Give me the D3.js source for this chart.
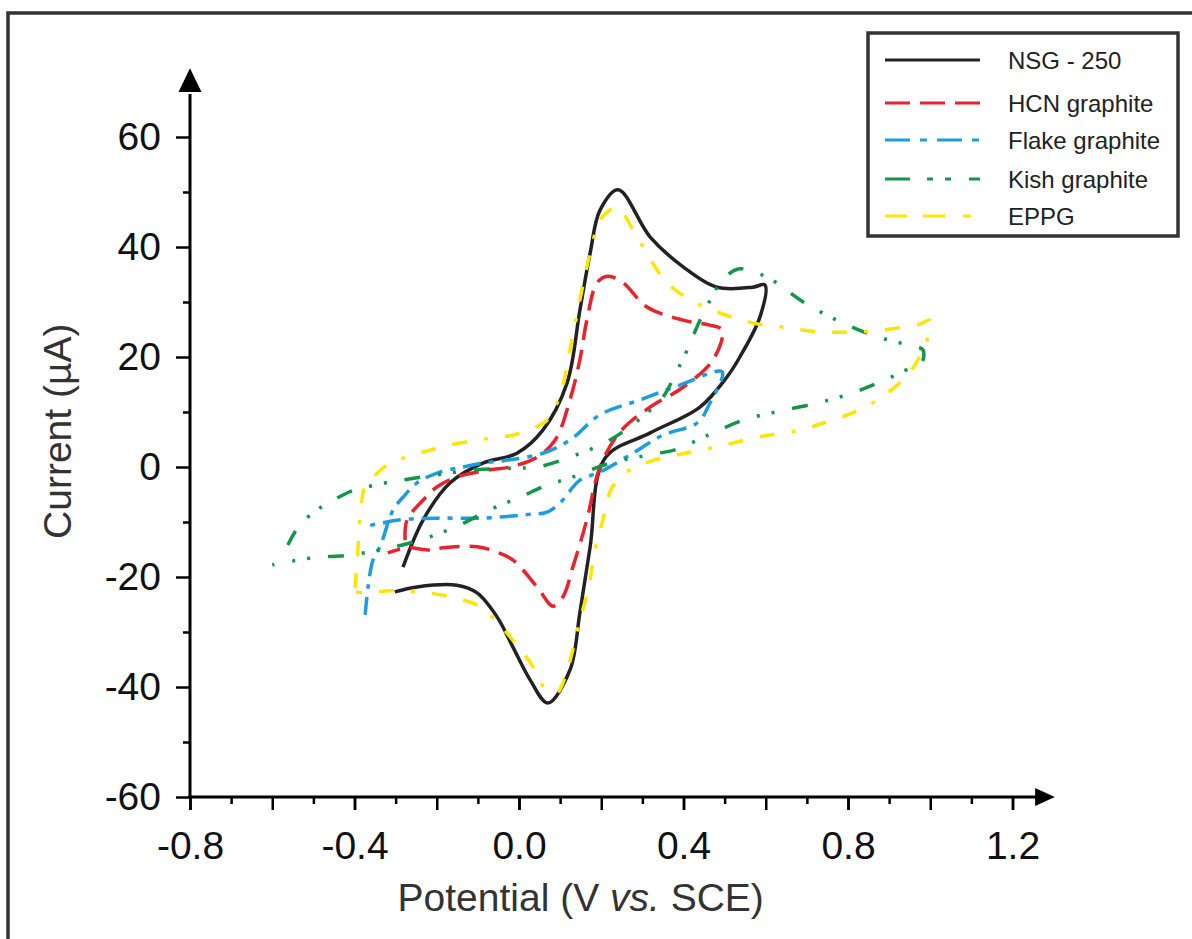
<!DOCTYPE html>
<html>
<head>
<meta charset="utf-8">
<script src="https://cdn.jsdelivr.net/npm/d3@7"></script>
<style>
  body { margin: 0; background: #fff; }
  text { font-family: "Liberation Sans", Arial, sans-serif; }
</style>
</head>
<body>
<div id="chart"></div>
<script>
// series: [potential (V vs SCE), current (uA)], scanned forward then back
var nsg250 = [
  [-0.282,-18.2],[-0.233,-9.6],[-0.168,-2.9],[-0.088,0.7],[-0.005,2.5],[0.058,6.7],
  [0.117,15.3],[0.148,28.5],[0.173,38.9],[0.197,46.7],[0.241,50.4],[0.319,41.8],
  [0.399,36.4],[0.481,32.7],[0.569,32.7],[0.598,33.1],
  [0.586,27.3],[0.537,20.0],[0.506,16.4],[0.440,10.9],[0.319,6.2],[0.209,1.6],
  [0.173,-14.5],[0.148,-26.5],[0.124,-36.9],[0.070,-42.9],[0.027,-38.7],[-0.015,-32.7],
  [-0.053,-27.3],[-0.102,-22.9],[-0.151,-21.5],[-0.248,-21.8],[-0.302,-22.7]
];
var hcnGraphite = [
  [-0.277,-13.3],[-0.272,-9.6],[-0.233,-6.0],[-0.199,-3.6],[-0.151,-1.8],[-0.071,-0.5],
  [-0.022,0],[0.044,1.8],[0.088,4.9],[0.124,12.2],[0.148,19.5],[0.165,26.7],
  [0.190,33.5],[0.216,34.7],[0.253,33.5],[0.311,29.1],[0.399,26.7],[0.464,25.8],[0.494,24.9],
  [0.472,19.5],[0.399,14.5],[0.319,10.9],[0.246,6.4],[0.197,0],[0.165,-9.6],
  [0.131,-18.2],[0.107,-23.6],[0.083,-25.3],[0.044,-21.8],[-0.015,-16.9],[-0.053,-15.5],
  [-0.102,-14.5],[-0.185,-14.7],[-0.216,-15.1],[-0.272,-14.7],[-0.319,-15.6]
];
var flakeGraphite = [
  [-0.374,-26.9],[-0.367,-21.8],[-0.355,-16.9],[-0.338,-14.5],[-0.306,-7.8],[-0.282,-5.5],
  [-0.248,-2.9],[-0.199,-1.1],[-0.136,0],[-0.088,0.7],[-0.022,1.3],[0.058,2.5],
  [0.124,4.9],[0.197,9.5],[0.294,12.2],[0.391,14.9],[0.494,17.3],
  [0.464,11.6],[0.433,8.0],[0.350,5.8],[0.270,2.2],[0.197,-0.9],[0.148,-2.4],
  [0.100,-6.5],[0.068,-8.2],[0.010,-8.7],[-0.088,-9.3],[-0.199,-9.3],[-0.289,-9.6],[-0.379,-10.9]
];
var kishGraphite = [
  [-0.562,-14.2],[-0.533,-10.5],[-0.491,-7.8],[-0.460,-6.4],[-0.411,-4.5],[-0.379,-3.8],
  [-0.326,-2.9],[-0.284,-2.4],[-0.216,-1.6],[-0.102,-0.5],[-0.015,-0.2],[0.044,0],
  [0.124,1.8],[0.221,4.9],[0.306,9.5],[0.350,12.7],[0.379,16.7],[0.409,21.3],
  [0.440,26.7],[0.469,30.9],[0.494,34.0],[0.533,36.0],[0.567,35.6],[0.615,34.0],
  [0.691,30.0],[0.773,26.7],[0.858,24.0],[0.944,22.2],[0.982,21.3],
  [0.980,19.1],[0.951,18.0],[0.883,15.6],[0.812,13.5],[0.725,11.6],[0.635,10.2],
  [0.545,8.5],[0.460,5.8],[0.379,3.1],[0.338,2.5],[0.221,0.7],[0.124,-2.0],
  [0.068,-3.3],[0.002,-5.5],[-0.063,-7.5],[-0.143,-10.5],[-0.224,-12.9],[-0.314,-14.7],
  [-0.411,-16.0],[-0.501,-16.5],[-0.600,-17.8]
];
var eppg = [
  [-0.399,-22.0],[-0.394,-17.8],[-0.389,-11.5],[-0.382,-6.0],[-0.374,-3.3],[-0.350,-1.5],
  [-0.314,0.7],[-0.282,1.6],[-0.233,2.7],[-0.168,4.0],[-0.083,5.1],[-0.015,5.8],
  [0.034,7.1],[0.068,8.5],[0.100,13.1],[0.124,21.3],[0.153,32.2],[0.178,40.4],
  [0.197,44.9],[0.238,47.1],[0.282,42.5],[0.323,37.3],[0.360,33.5],[0.416,30.4],
  [0.489,28.0],[0.567,26.2],[0.635,25.5],[0.712,24.7],[0.781,24.5],[0.849,24.7],
  [0.926,25.3],[0.975,26.0],[0.999,26.7],
  [0.994,23.6],[0.980,20.9],[0.951,17.3],[0.897,13.5],[0.829,10.4],[0.756,8.4],
  [0.683,6.7],[0.586,5.5],[0.489,3.8],[0.404,2.5],[0.331,1.3],[0.270,-0.5],
  [0.226,-3.8],[0.204,-9.6],[0.185,-15.1],[0.168,-22.4],[0.148,-27.8],[0.129,-33.8],
  [0.112,-38.2],[0.092,-41.1],[0.063,-40.2],[0.027,-35.5],[-0.015,-31.5],[-0.058,-27.8],
  [-0.102,-25.1],[-0.168,-23.6],[-0.241,-22.7],[-0.314,-22.5],[-0.374,-22.9],[-0.397,-22.7]
];

var seriesNames = ["NSG - 250", "HCN graphite", "Flake graphite", "Kish graphite", "EPPG"];
var seriesData = [nsg250, hcnGraphite, flakeGraphite, kishGraphite, eppg];
var seriesColors = ["#222222", "#e8232b", "#1c9de0", "#12964a", "#ffe500"];
var plotDash = [null, "20,10", "18,8,5,8", "16,18,3,12,3,18", "15,17,15,17,4,17"];
var legendDash = [null, "25,10", "25,10,7,10", "25,17,6,12,6,18", "22,16,22,18,8,16"];

var xMinorTicks = [-0.7,-0.5,-0.3,-0.1,0.1,0.3,0.5,0.7,0.9,1.1];
var xMajorTicks = [-0.8,-0.6,-0.4,-0.2,0,0.2,0.4,0.6,0.8,1.0,1.2];
var xLabelTicks = [-0.8,-0.4,0,0.4,0.8,1.2];
var yMinorTicks = [-50,-30,-10,10,30,50];
var yMajorTicks = [-60,-40,-20,0,20,40,60];

var width = 1192, height = 939;

var svg = d3.select("#chart")
    .append("svg")
    .attr("width", width)
    .attr("height", height)

// outer frame of the figure
svg.append("rect")
    .attr("x", 8).attr("y", 13)
    .attr("width", 1300).attr("height", 1100)
    .attr("fill", "none")
    .attr("stroke", "#333")
    .attr("stroke-width", 3.5)

var x = d3.scaleLinear().domain([-0.8, 1.2]).range([190, 1012.5])
var y = d3.scaleLinear().domain([-60, 60]).range([797, 137])

function styleAxis(g) {
    g.select(".domain").remove()
    g.selectAll(".tick line").attr("stroke", "#000").attr("stroke-width", 2.5)
    g.selectAll(".tick text")
        .attr("fill", "#111")
        .style("font-size", "39px")
}

// x axis
svg.append("g").attr("transform", "translate(0," + y(-60) + ")")
    .call(d3.axisBottom(x).tickValues(xMinorTicks).tickSize(7).tickFormat(""))
    .call(styleAxis)
svg.append("g").attr("transform", "translate(0," + y(-60) + ")")
    .call(d3.axisBottom(x).tickValues(xMajorTicks).tickSize(13).tickFormat(""))
    .call(styleAxis)
svg.append("g").attr("transform", "translate(0," + y(-60) + ")")
    .call(d3.axisBottom(x).tickValues(xLabelTicks).tickSize(13).tickPadding(21)
        .tickFormat(function(d) { return d.toFixed(1) }))
    .call(styleAxis)

// y axis
svg.append("g").attr("transform", "translate(" + x(-0.8) + ",0)")
    .call(d3.axisLeft(y).tickValues(yMinorTicks).tickSize(7).tickFormat(""))
    .call(styleAxis)
svg.append("g").attr("transform", "translate(" + x(-0.8) + ",0)")
    .call(d3.axisLeft(y).tickValues(yMajorTicks).tickSize(14).tickPadding(15)
        .tickFormat(function(d) { return String(d) }))
    .call(styleAxis)

// axis lines with arrow heads
var yArrowBase = 68.2, yArrowTip = 72.5;
var xArrowBase = 1.255, xArrowTip = 1.303;
svg.append("line")
    .attr("x1", x(-0.8)).attr("y1", y(-60) + 1.2)
    .attr("x2", x(-0.8)).attr("y2", y(yArrowBase) + 2)
    .attr("stroke", "#000").attr("stroke-width", 3)
svg.append("path")
    .attr("d", "M" + x(-0.8) + "," + y(yArrowTip) +
        "L" + (x(-0.8) - 11.5) + "," + y(yArrowBase) +
        "L" + (x(-0.8) + 11.5) + "," + y(yArrowBase) + "Z")
    .attr("fill", "#000")
svg.append("line")
    .attr("x1", x(-0.8) - 1.5).attr("y1", y(-60))
    .attr("x2", x(xArrowBase) + 2).attr("y2", y(-60))
    .attr("stroke", "#000").attr("stroke-width", 3)
svg.append("path")
    .attr("d", "M" + x(xArrowTip) + "," + y(-60) +
        "L" + x(xArrowBase) + "," + (y(-60) - 9) +
        "L" + x(xArrowBase) + "," + (y(-60) + 9) + "Z")
    .attr("fill", "#000")

// axis titles
svg.append("text")
    .attr("transform", "translate(57," + y(6.5) + ") rotate(-90)")
    .attr("text-anchor", "middle")
    .attr("dominant-baseline", "central")
    .attr("fill", "#333")
    .style("font-size", "39px")
    .text("Current (\u00b5A)")

var xt = svg.append("text")
    .attr("x", x(0.15)).attr("y", 911)
    .attr("text-anchor", "middle")
    .attr("fill", "#333")
    .style("font-size", "39px")
xt.append("tspan").text("Potential (V ")
xt.append("tspan").style("font-style", "italic").text("vs.")
xt.append("tspan").text(" SCE)")

// curves
var line = d3.line()
    .x(function(d) { return x(d[0]) })
    .y(function(d) { return y(d[1]) })
    .curve(d3.curveCatmullRom.alpha(0.5))

seriesData.forEach(function(data, i) {
    svg.append("path")
        .datum(data)
        .attr("d", line)
        .attr("fill", "none")
        .attr("stroke", seriesColors[i])
        .attr("stroke-width", 3.5)
        .attr("stroke-dasharray", plotDash[i])
        .attr("stroke-linejoin", "round")
})

// legend
var legend = svg.append("g")
legend.append("rect")
    .attr("x", 868).attr("y", 33)
    .attr("width", 310).attr("height", 203)
    .attr("fill", "#fff")
    .attr("stroke", "#333")
    .attr("stroke-width", 3.5)

var legendRows = [60, 103, 140, 179, 216];
seriesNames.forEach(function(name, i) {
    legend.append("line")
        .attr("x1", 885).attr("x2", 980)
        .attr("y1", legendRows[i]).attr("y2", legendRows[i])
        .attr("stroke", seriesColors[i])
        .attr("stroke-width", 3)
        .attr("stroke-dasharray", legendDash[i])
    legend.append("text")
        .attr("x", 1008).attr("y", legendRows[i])
        .attr("dominant-baseline", "central")
        .attr("fill", "#222")
        .style("font-size", "24px")
        .text(name)
})
</script>
</body>
</html>
